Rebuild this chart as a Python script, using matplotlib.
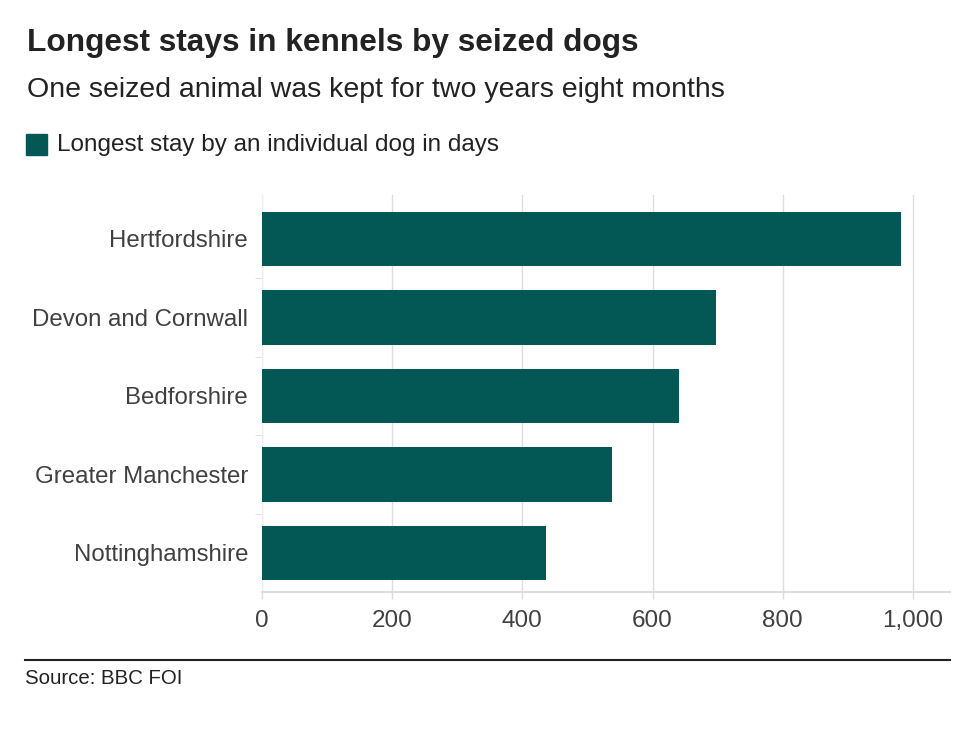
import matplotlib
matplotlib.use("Agg")
import matplotlib.pyplot as plt
from matplotlib.patches import Rectangle
from matplotlib.lines import Line2D

plt.rcParams["font.family"] = ["Liberation Sans", "DejaVu Sans"]

# values (days)
regions = ["Hertfordshire", "Devon and Cornwall", "Bedforshire",
           "Greater Manchester", "Nottinghamshire"]
longest_stay_days = [982, 698, 641, 538, 437]
x_ticks = [0, 200, 400, 600, 800, 1000]
x_tick_labels = ["0", "200", "400", "600", "800", "1,000"]

BAR = "#035855"
TEXT = "#222222"
GRID = "#dddddd"

fig = plt.figure(figsize=(9.76, 7.3), dpi=100)
ax = fig.add_axes([262 / 976, 138 / 730, 688 / 976, 397 / 730])

ypos = list(range(len(regions)))
ax.barh(ypos, longest_stay_days, height=0.695, color=BAR, zorder=3)
ax.set_ylim(len(regions) - 0.5, -0.56)
ax.set_xlim(0, 1057)

ax.set_xticks(x_ticks)
ax.set_xticklabels(x_tick_labels)
ax.set_yticks(ypos)
ax.set_yticklabels(regions)
ax.tick_params(axis="x", length=5, width=1, color=GRID, pad=8,
               labelsize=17.5, labelcolor="#404040")
ax.tick_params(axis="y", length=0, pad=10, labelsize=17.3, labelcolor="#404040")
# small tick marks between categories on the y axis
ax.set_yticks([i + 0.5 for i in range(len(regions) - 1)], minor=True)
ax.tick_params(axis="y", which="minor", length=5, color=GRID)

ax.grid(axis="x", color=GRID, linewidth=1, zorder=0)
for side in ["top", "right"]:
    ax.spines[side].set_visible(False)
ax.spines["left"].set_color("#eeeeee")
ax.spines["bottom"].set_color(GRID)
ax.spines["bottom"].set_linewidth(1.5)

fig.text(27 / 976, 1 - 43 / 730, "Longest stays in kennels by seized dogs",
         fontsize=22.8, fontweight="bold", color=TEXT, va="center")
fig.text(27 / 976, 1 - 90 / 730, "One seized animal was kept for two years eight months",
         fontsize=20.5, color=TEXT, va="center")
fig.patches.append(Rectangle((26 / 976, 1 - 155 / 730), 21 / 976, 21 / 730,
                             transform=fig.transFigure, color=BAR))
fig.text(57 / 976, 1 - 145 / 730, "Longest stay by an individual dog in days",
         fontsize=17.5, color=TEXT, va="center")

fig.lines.append(Line2D([25 / 976, 950 / 976], [1 - 660 / 730, 1 - 660 / 730],
                        transform=fig.transFigure, color="#222222", linewidth=1.5))
fig.text(25 / 976, 1 - 678 / 730, "Source: BBC FOI", fontsize=14.7,
         color=TEXT, va="center")

fig.savefig("out.png", dpi=100)
